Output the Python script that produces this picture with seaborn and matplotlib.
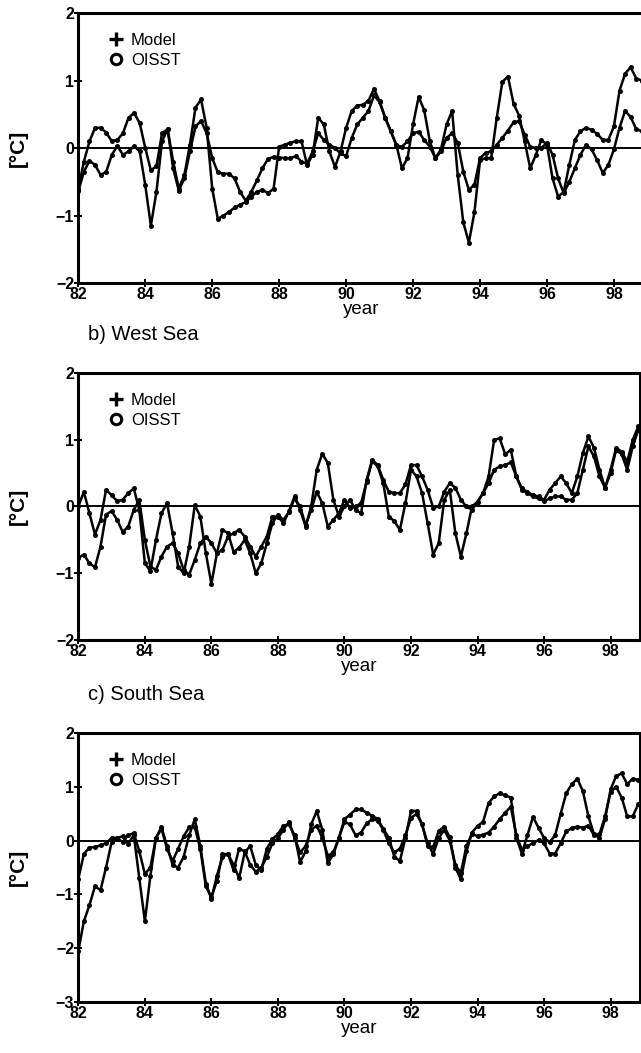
import numpy as np
import pandas as pd
import matplotlib
matplotlib.use("Agg")
import matplotlib.pyplot as plt
import seaborn as sns
from matplotlib.lines import Line2D

# bimonthly time axis (year of the 1900s)
years = 82 + np.arange(102) / 6.0

# a) East Sea (top panel, no title visible)
east_model = [
    -0.64, -0.35, -0.19, -0.25, -0.40, -0.35, -0.10, 0.03, -0.10, -0.05, 0.03, -0.05,
    -0.55, -1.15, -0.65, 0.10, 0.28, -0.20, -0.60, -0.40, 0.05, 0.60, 0.72, 0.30,
    -0.60, -1.05, -1.00, -0.95, -0.88, -0.84, -0.80, -0.72, -0.65, -0.62, -0.67, -0.60,
    0.02, 0.05, 0.08, 0.10, 0.10, -0.25, -0.10, 0.45, 0.35, -0.05, -0.28, -0.05,
    0.30, 0.55, 0.63, 0.64, 0.70, 0.88, 0.69, 0.45, 0.25, 0.05, -0.30, -0.15,
    0.35, 0.76, 0.56, 0.10, -0.15, -0.02, 0.35, 0.55, -0.40, -1.10, -1.40, -0.95,
    -0.18, -0.15, -0.15, 0.45, 0.98, 1.06, 0.66, 0.48, 0.10, -0.30, -0.10, 0.12,
    0.05, -0.45, -0.72, -0.65, -0.25, 0.12, 0.25, 0.30, 0.27, 0.21, 0.12, 0.12,
    0.32, 0.85, 1.10, 1.20, 1.03, 1.00,
]
east_oisst = [
    -0.60, -0.20, 0.10, 0.30, 0.30, 0.23, 0.10, 0.12, 0.22, 0.45, 0.52, 0.37,
    0.00, -0.33, -0.27, 0.22, 0.28, -0.30, -0.63, -0.45, -0.05, 0.32, 0.40, 0.22,
    -0.15, -0.36, -0.38, -0.38, -0.45, -0.65, -0.78, -0.65, -0.48, -0.30, -0.16, -0.13,
    -0.14, -0.15, -0.15, -0.12, -0.20, -0.23, -0.05, 0.22, 0.12, 0.05, 0.00, -0.08,
    -0.12, 0.15, 0.35, 0.45, 0.55, 0.78, 0.68, 0.45, 0.25, 0.04, 0.02, 0.10,
    0.22, 0.24, 0.12, 0.02, -0.15, -0.05, 0.15, 0.22, 0.08, -0.35, -0.62, -0.54,
    -0.15, -0.07, -0.05, 0.05, 0.15, 0.26, 0.38, 0.40, 0.20, 0.02, 0.00, 0.00,
    0.08, -0.10, -0.45, -0.67, -0.50, -0.30, -0.10, 0.05, -0.02, -0.18, -0.37, -0.25,
    -0.02, 0.30, 0.55, 0.46, 0.28, 0.25,
]

# b) West Sea
west_model = [
    0.00, 0.22, -0.10, -0.42, -0.20, 0.25, 0.17, 0.08, 0.10, 0.20, 0.27, -0.05,
    -0.85, -0.97, -0.50, -0.10, 0.05, -0.40, -0.90, -1.00, -0.60, 0.02, -0.15, -0.70,
    -1.16, -0.70, -0.35, -0.40, -0.68, -0.62, -0.50, -0.70, -1.00, -0.85, -0.55, -0.25,
    -0.12, -0.20, -0.08, 0.12, 0.00, -0.28, -0.05, 0.22, 0.05, -0.30, -0.20, -0.10,
    0.10, -0.02, 0.00, 0.05, 0.37, 0.68, 0.60, 0.35, -0.15, -0.22, -0.35, 0.05,
    0.55, 0.45, 0.20, -0.25, -0.72, -0.55, 0.10, 0.25, -0.40, -0.75, -0.40, 0.00,
    0.07, 0.20, 0.35, 0.55, 0.60, 0.62, 0.66, 0.45, 0.25, 0.20, 0.15, 0.12,
    0.08, 0.12, 0.15, 0.15, 0.10, 0.10, 0.20, 0.55, 0.90, 0.75, 0.45, 0.28,
    0.50, 0.85, 0.78, 0.55, 0.90, 1.15,
]
west_oisst = [
    -0.77, -0.72, -0.85, -0.91, -0.60, -0.12, -0.07, -0.20, -0.38, -0.30, -0.05, 0.10,
    -0.50, -0.90, -0.95, -0.75, -0.60, -0.55, -0.70, -0.95, -1.02, -0.80, -0.55, -0.45,
    -0.55, -0.70, -0.65, -0.45, -0.40, -0.35, -0.45, -0.60, -0.75, -0.60, -0.45, -0.15,
    -0.15, -0.25, -0.07, 0.15, -0.05, -0.30, 0.00, 0.55, 0.79, 0.65, 0.10, -0.15,
    0.00, 0.10, -0.05, -0.10, 0.40, 0.70, 0.62, 0.40, 0.22, 0.20, 0.20, 0.33,
    0.62, 0.62, 0.45, 0.25, -0.02, 0.00, 0.22, 0.35, 0.28, 0.10, 0.00, -0.05,
    0.07, 0.20, 0.45, 1.00, 1.02, 0.78, 0.85, 0.45, 0.27, 0.22, 0.17, 0.15,
    0.10, 0.25, 0.35, 0.45, 0.35, 0.20, 0.45, 0.80, 1.05, 0.88, 0.55, 0.28,
    0.55, 0.88, 0.82, 0.67, 1.00, 1.20,
]

# c) South Sea
south_model = [
    -2.05, -1.50, -1.20, -0.85, -0.92, -0.50, -0.03, 0.05, 0.08, -0.06, 0.10, -0.70,
    -1.50, -0.65, 0.05, 0.25, -0.10, -0.45, -0.50, -0.30, 0.10, 0.40, -0.10, -0.80,
    -1.08, -0.65, -0.30, -0.25, -0.45, -0.70, -0.22, -0.10, -0.45, -0.55, -0.15, 0.03,
    0.12, 0.28, 0.30, 0.10, -0.40, -0.20, 0.30, 0.55, 0.20, -0.42, -0.25, 0.05,
    0.40, 0.48, 0.58, 0.58, 0.52, 0.46, 0.40, 0.22, 0.05, -0.30, -0.38, 0.05,
    0.55, 0.55, 0.30, -0.10, -0.12, 0.18, 0.26, 0.06, -0.50, -0.72, -0.20, 0.15,
    0.27, 0.35, 0.70, 0.82, 0.88, 0.84, 0.80, 0.05, -0.24, 0.10, 0.44, 0.24,
    0.05, -0.03, 0.10, 0.50, 0.88, 1.05, 1.15, 0.92, 0.45, 0.12, 0.05, 0.40,
    0.95, 1.20, 1.25, 1.05, 1.15, 1.13,
]
south_oisst = [
    -0.71, -0.25, -0.13, -0.12, -0.09, -0.05, 0.05, 0.05, -0.03, 0.10, 0.14, -0.20,
    -0.62, -0.50, 0.05, 0.22, -0.15, -0.38, -0.15, 0.08, 0.25, 0.25, -0.15, -0.85,
    -1.05, -0.75, -0.25, -0.25, -0.55, -0.15, -0.20, -0.45, -0.58, -0.50, -0.30, -0.05,
    0.05, 0.20, 0.35, 0.05, -0.22, -0.10, 0.20, 0.28, 0.05, -0.28, -0.22, 0.05,
    0.35, 0.30, 0.10, 0.15, 0.32, 0.40, 0.37, 0.20, -0.05, -0.22, -0.15, 0.10,
    0.42, 0.50, 0.30, -0.05, -0.25, 0.05, 0.20, 0.00, -0.45, -0.60, -0.10, 0.13,
    0.08, 0.11, 0.15, 0.26, 0.40, 0.52, 0.63, 0.10, -0.17, -0.10, -0.05, 0.01,
    -0.05, -0.24, -0.24, -0.05, 0.17, 0.23, 0.26, 0.24, 0.28, 0.10, 0.12, 0.45,
    0.90, 1.00, 0.80, 0.45, 0.45, 0.68,
]

panels = [
    (None, east_model, east_oisst, [-2, -1, 0, 1, 2], (-2, 2)),
    ("b) West Sea", west_model, west_oisst, [-2, -1, 0, 1, 2], (-2, 2)),
    ("c) South Sea", south_model, south_oisst, [-3, -2, -1, 0, 1, 2], (-3, 2)),
]
xticks = [82, 84, 86, 88, 90, 92, 94, 96, 98]

sns.set_style("ticks")
plt.rcParams["font.family"] = ["Liberation Sans", "DejaVu Sans"]
plt.rcParams.update({"text.color": "black", "axes.labelcolor": "black",
                     "xtick.color": "black", "ytick.color": "black"})

fig = plt.figure(figsize=(6.41, 10.53), dpi=100)

# axes boxes in figure fractions (left, bottom, width, height)
boxes = [
    (0.1222, 0.7312, 0.8810, 0.2564),
    (0.1222, 0.3922, 0.8755, 0.2536),
    (0.1222, 0.0484, 0.8755, 0.2555),
]
title_y = [None, 0.682, 0.340]

for (title, model, oisst, yticks, ylim), box, ty in zip(panels, boxes, title_y):
    ax = fig.add_axes(box)
    df = pd.DataFrame({
        "year": np.concatenate([years, years]),
        "sst": np.concatenate([model, oisst]),
        "source": ["Model"] * len(years) + ["OISST"] * len(years),
    })
    sns.lineplot(data=df, x="year", y="sst", hue="source",
                 palette={"Model": "black", "OISST": "black"},
                 estimator=None, marker="o", markersize=3.6, markeredgewidth=0,
                 linewidth=1.8, legend=False, ax=ax)
    ax.axhline(0, color="black", lw=1.4, zorder=1)

    ax.set_xlim(82, 98.87)
    ax.set_ylim(*ylim)
    ax.set_xticks(xticks)
    ax.set_yticks(yticks)
    ax.tick_params(direction="inout", length=6, width=1.4, labelsize=11.5, pad=0)
    for lab in ax.get_xticklabels() + ax.get_yticklabels():
        lab.set_fontweight("bold")
    for s in ax.spines.values():
        s.set_visible(True)
        s.set_linewidth(2.2)
        s.set_color("black")

    ax.set_xlabel("year", fontsize=13.5, labelpad=-1)
    ax.set_ylabel("[°C]", fontsize=15, fontweight="bold")
    ax.yaxis.set_label_coords(-0.09, 0.5)

    handles = [
        Line2D([], [], ls="none", marker="+", color="black", markersize=10, markeredgewidth=2.4),
        Line2D([], [], ls="none", marker="o", color="black", markerfacecolor="none",
               markersize=7.5, markeredgewidth=2.2),
    ]
    ax.legend(handles, ["Model", "OISST"], loc="upper left", bbox_to_anchor=(0.04, 0.95),
              frameon=False, fontsize=12, handlelength=1.0, handletextpad=0.4,
              labelspacing=0.3, borderaxespad=0, labelcolor="black")

    if title:
        fig.text(88 / 641, ty, title, fontsize=14.5, va="center", ha="left")

fig.savefig("out.png", dpi=100)
